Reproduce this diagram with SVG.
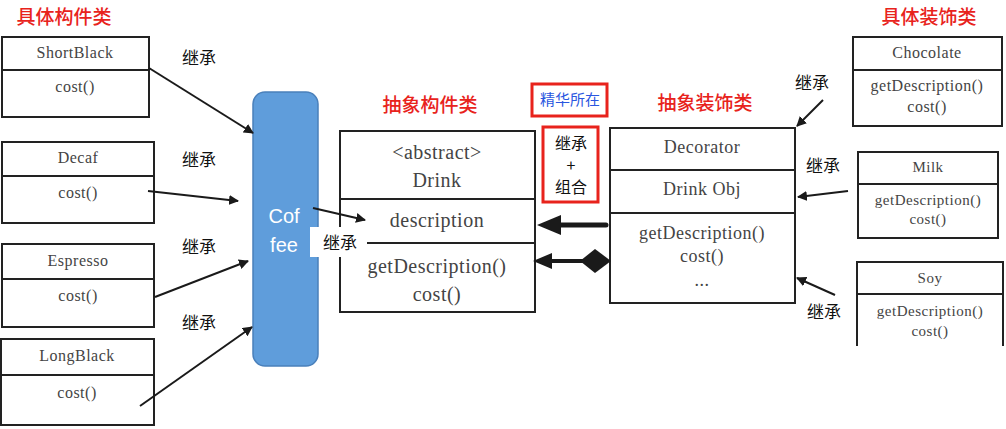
<svg xmlns="http://www.w3.org/2000/svg" width="1006" height="429" viewBox="0 0 1006 429">
<defs>
<marker id="ah" viewBox="0 0 10 10" refX="9" refY="5" markerWidth="5" markerHeight="5" orient="auto" markerUnits="strokeWidth">
<path d="M0,0 L10,5 L0,10 Z" fill="#1a1a1a"/>
</marker>
<style>
.box{fill:#fff;stroke:#222;stroke-width:2}
.ln{stroke:#222;stroke-width:2;fill:none}
.t{font-family:"Liberation Serif","DejaVu Serif",serif;fill:#444;text-anchor:middle;letter-spacing:0.5px}
.cn{font-family:"Noto Sans CJK SC",sans-serif;fill:#111;font-size:17px;text-anchor:middle}
.red{font-family:"Noto Sans CJK SC",sans-serif;fill:#e8231c;font-size:19px;text-anchor:middle;font-weight:500}
.arr{stroke:#1a1a1a;stroke-width:2;fill:none;marker-end:url(#ah)}
</style>
</defs>
<rect width="1006" height="429" fill="#fff"/>

<text class="red" x="64" y="24">具体构件类</text>
<text class="red" x="430" y="112">抽象构件类</text>
<text class="red" x="705" y="110">抽象装饰类</text>
<text class="red" x="929" y="24">具体装饰类</text>

<g id="shortblack">
<rect class="box" x="2" y="37" width="147" height="80"/>
<line class="ln" x1="2" y1="70" x2="149" y2="70"/>
<text class="t" x="75" y="58" font-size="16">ShortBlack</text>
<text class="t" x="75" y="92" font-size="16">cost()</text>
</g>
<g id="decaf">
<rect class="box" x="2" y="142" width="152" height="81"/>
<line class="ln" x1="2" y1="176" x2="154" y2="176"/>
<text class="t" x="78" y="163" font-size="16">Decaf</text>
<text class="t" x="78" y="198" font-size="16">cost()</text>
</g>
<g id="espresso">
<rect class="box" x="2" y="244" width="152" height="83"/>
<line class="ln" x1="2" y1="279" x2="154" y2="279"/>
<text class="t" x="78" y="266" font-size="16">Espresso</text>
<text class="t" x="78" y="301" font-size="16">cost()</text>
</g>
<g id="longblack">
<rect class="box" x="1" y="339" width="153" height="86"/>
<line class="ln" x1="1" y1="375" x2="154" y2="375"/>
<text class="t" x="77" y="361" font-size="16">LongBlack</text>
<text class="t" x="77" y="398" font-size="16">cost()</text>
</g>

<g id="coffee">
<rect x="253" y="92" width="65" height="274" rx="12" fill="#5f9ddb" stroke="#4a80bb" stroke-width="1.5"/>
<text x="284" y="223" font-family="Liberation Sans, Arial, sans-serif" font-size="20" fill="#fff" text-anchor="middle">Cof</text>
<text x="284" y="252" font-family="Liberation Sans, Arial, sans-serif" font-size="20" fill="#fff" text-anchor="middle">fee</text>
</g>

<g id="drink">
<rect class="box" x="340" y="131" width="195" height="181"/>
<line class="ln" x1="340" y1="199" x2="535" y2="199"/>
<line class="ln" x1="340" y1="243" x2="535" y2="243"/>
<text class="t" x="437" y="159" font-size="20">&lt;abstract&gt;</text>
<text class="t" x="437" y="187" font-size="20">Drink</text>
<text class="t" x="437" y="227" font-size="20">description</text>
<text class="t" x="437" y="273" font-size="20">getDescription()</text>
<text class="t" x="437" y="301" font-size="20">cost()</text>
</g>

<g id="label-coffee-inherit">
<rect x="310" y="227" width="57" height="30" fill="#fff"/>
<text class="cn" x="340" y="249">继承</text>
</g>

<g id="highlight">
<rect x="532" y="84" width="75" height="32" fill="none" stroke="#e8231c" stroke-width="3"/>
<text x="570" y="105" font-family="Noto Sans CJK SC, sans-serif" font-size="15" fill="#2a56e0" text-anchor="middle">精华所在</text>
</g>
<g id="inherit-compose">
<rect x="543" y="127" width="55" height="75" fill="none" stroke="#e8231c" stroke-width="3"/>
<text class="cn" x="571" y="149" style="font-size:16px">继承</text>
<text class="cn" x="571" y="171" style="font-size:16px">+</text>
<text class="cn" x="571" y="193" style="font-size:16px">组合</text>
</g>

<g id="decorator">
<rect class="box" x="610" y="128" width="185" height="175"/>
<line class="ln" x1="610" y1="170" x2="795" y2="170"/>
<line class="ln" x1="610" y1="213" x2="795" y2="213"/>
<text class="t" x="702" y="153" font-size="18">Decorator</text>
<text class="t" x="702" y="195" font-size="18">Drink Obj</text>
<text class="t" x="702" y="239" font-size="18">getDescription()</text>
<text class="t" x="702" y="262" font-size="18">cost()</text>
<text class="t" x="702" y="286" font-size="18">...</text>
</g>

<g id="chocolate">
<rect class="box" x="853" y="37" width="149" height="89"/>
<line class="ln" x1="853" y1="70" x2="1002" y2="70"/>
<text class="t" x="927" y="58" font-size="16">Chocolate</text>
<text class="t" x="927" y="91" font-size="16">getDescription()</text>
<text class="t" x="927" y="112" font-size="16">cost()</text>
</g>
<g id="milk">
<rect class="box" x="858" y="152" width="140" height="86"/>
<line class="ln" x1="858" y1="184" x2="998" y2="184"/>
<text class="t" x="928" y="172" font-size="15">Milk</text>
<text class="t" x="928" y="205" font-size="15">getDescription()</text>
<text class="t" x="928" y="224" font-size="15">cost()</text>
</g>
<g id="soy">
<path class="ln" d="M857,346 L857,262 L1003,262 L1003,346"/>
<line class="ln" x1="857" y1="294" x2="1003" y2="294"/>
<text class="t" x="930" y="283" font-size="15">Soy</text>
<text class="t" x="930" y="316" font-size="15">getDescription()</text>
<text class="t" x="930" y="336" font-size="15">cost()</text>
</g>

<g id="connectors">
<line class="arr" x1="149" y1="68" x2="253" y2="133"/>
<line class="arr" x1="148" y1="191" x2="238" y2="201"/>
<line class="arr" x1="155" y1="297" x2="248" y2="261"/>
<line class="arr" x1="140" y1="406" x2="252" y2="327"/>
<line class="arr" x1="313" y1="208" x2="365" y2="220"/>
<line class="arr" x1="823" y1="100" x2="797" y2="126"/>
<line class="arr" x1="848" y1="191" x2="798" y2="197"/>
<line class="arr" x1="835" y1="295" x2="797" y2="278"/>
<line x1="556" y1="225" x2="606" y2="225" stroke="#1a1a1a" stroke-width="5" stroke-linecap="round"/>
<polygon points="537,225 561,215 561,235" fill="#1a1a1a"/>
<line x1="550" y1="261" x2="584" y2="261" stroke="#1a1a1a" stroke-width="4"/>
<polygon points="533,261 552,253 552,269" fill="#1a1a1a"/>
<polygon points="580,261 595,249 611,261 595,273" fill="#1a1a1a"/>
</g>

<g id="labels">
<text class="cn" x="199" y="64">继承</text>
<text class="cn" x="199" y="166">继承</text>
<text class="cn" x="199" y="253">继承</text>
<text class="cn" x="199" y="329">继承</text>
<text class="cn" x="812" y="89">继承</text>
<text class="cn" x="823" y="172">继承</text>
<text class="cn" x="824" y="318">继承</text>
</g>
</svg>
